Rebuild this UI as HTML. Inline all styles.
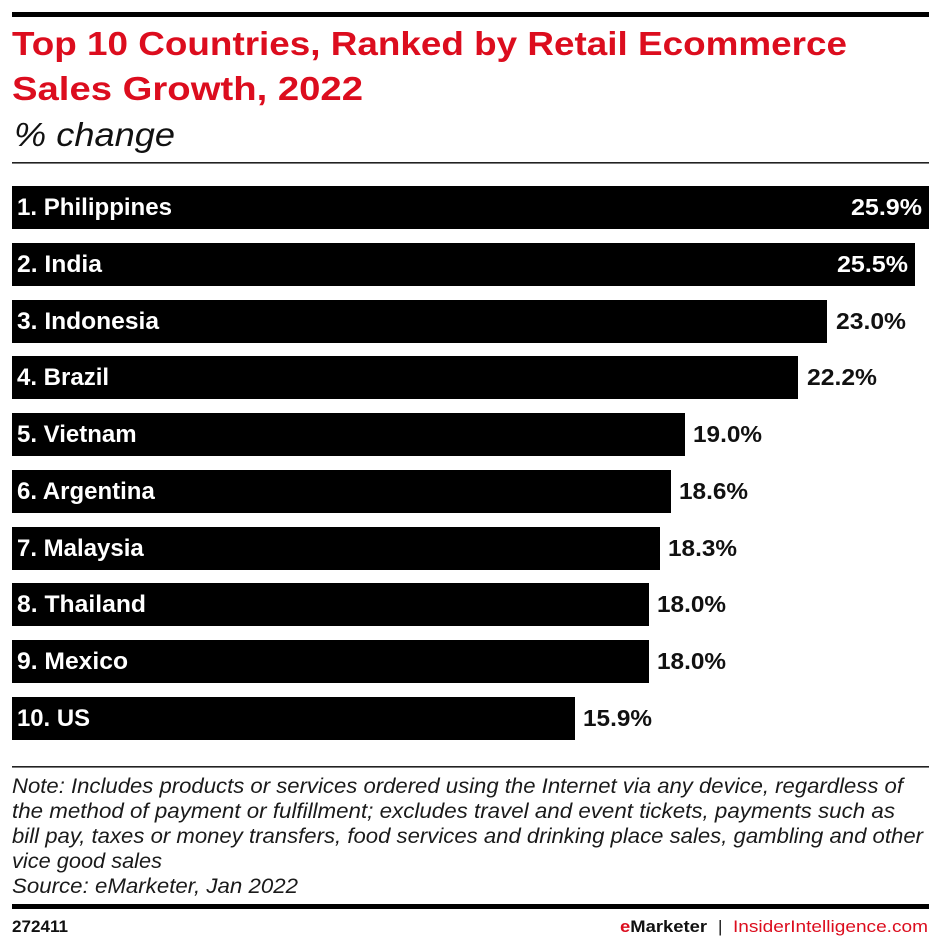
<!DOCTYPE html>
<html>
<head>
<meta charset="utf-8">
<style>
  html, body { margin: 0; padding: 0; background: #ffffff; }
  svg { display: block; }
  .lbl { font-family: "Liberation Sans", sans-serif; font-weight: bold; font-size: 24px; fill: #ffffff; }
  .val { font-family: "Liberation Sans", sans-serif; font-weight: bold; font-size: 23px; }
  .note { font-family: "Liberation Sans", sans-serif; font-style: italic; font-size: 21px; fill: #1a1a1a; }
</style>
</head>
<body>
<svg width="940" height="946" viewBox="0 0 940 946" xmlns="http://www.w3.org/2000/svg">
  <rect x="0" y="0" width="940" height="946" fill="#ffffff"/>

  <!-- top rule -->
  <rect x="12" y="12" width="917" height="5" fill="#000"/>

  <!-- title -->
  <text x="12" y="55" font-family="Liberation Sans, sans-serif" font-weight="bold" font-size="33.5" fill="#dc0d1e" textLength="835" lengthAdjust="spacingAndGlyphs">Top 10 Countries, Ranked by Retail Ecommerce</text>
  <text x="12" y="100" font-family="Liberation Sans, sans-serif" font-weight="bold" font-size="33.5" fill="#dc0d1e" textLength="351" lengthAdjust="spacingAndGlyphs">Sales Growth, 2022</text>
  <text x="14" y="146" font-family="Liberation Sans, sans-serif" font-style="italic" font-size="33" fill="#111" textLength="161" lengthAdjust="spacingAndGlyphs">% change</text>

  <!-- thin rule -->
  <rect x="12" y="162" width="917" height="1.6" fill="#222"/>

  <!-- bars -->
  <rect x="12" y="186" width="917" height="43" fill="#000"/>
  <rect x="12" y="243" width="903" height="43" fill="#000"/>
  <rect x="12" y="300" width="815" height="43" fill="#000"/>
  <rect x="12" y="356" width="786" height="43" fill="#000"/>
  <rect x="12" y="413" width="673" height="43" fill="#000"/>
  <rect x="12" y="470" width="659" height="43" fill="#000"/>
  <rect x="12" y="527" width="648" height="43" fill="#000"/>
  <rect x="12" y="583" width="637" height="43" fill="#000"/>
  <rect x="12" y="640" width="637" height="43" fill="#000"/>
  <rect x="12" y="697" width="563" height="43" fill="#000"/>

  <!-- bar labels -->
  <text class="lbl" x="17" y="215" textLength="155" lengthAdjust="spacingAndGlyphs">1. Philippines</text>
  <text class="lbl" x="17" y="272" textLength="85" lengthAdjust="spacingAndGlyphs">2. India</text>
  <text class="lbl" x="17" y="329" textLength="142" lengthAdjust="spacingAndGlyphs">3. Indonesia</text>
  <text class="lbl" x="17" y="385">4. Brazil</text>
  <text class="lbl" x="17" y="442">5. Vietnam</text>
  <text class="lbl" x="17" y="499">6. Argentina</text>
  <text class="lbl" x="17" y="556">7. Malaysia</text>
  <text class="lbl" x="17" y="612" textLength="129" lengthAdjust="spacingAndGlyphs">8. Thailand</text>
  <text class="lbl" x="17" y="669" textLength="111" lengthAdjust="spacingAndGlyphs">9. Mexico</text>
  <text class="lbl" x="17" y="726" textLength="73" lengthAdjust="spacingAndGlyphs">10. US</text>

  <!-- values -->
  <text class="val" x="851" y="215" fill="#fff" textLength="71" lengthAdjust="spacingAndGlyphs">25.9%</text>
  <text class="val" x="837" y="272" fill="#fff" textLength="71" lengthAdjust="spacingAndGlyphs">25.5%</text>
  <text class="val" x="836" y="329" fill="#111" textLength="70" lengthAdjust="spacingAndGlyphs">23.0%</text>
  <text class="val" x="807" y="385" fill="#111" textLength="70" lengthAdjust="spacingAndGlyphs">22.2%</text>
  <text class="val" x="693" y="442" fill="#111" textLength="69" lengthAdjust="spacingAndGlyphs">19.0%</text>
  <text class="val" x="679" y="499" fill="#111" textLength="69" lengthAdjust="spacingAndGlyphs">18.6%</text>
  <text class="val" x="668" y="556" fill="#111" textLength="69" lengthAdjust="spacingAndGlyphs">18.3%</text>
  <text class="val" x="657" y="612" fill="#111" textLength="69" lengthAdjust="spacingAndGlyphs">18.0%</text>
  <text class="val" x="657" y="669" fill="#111" textLength="69" lengthAdjust="spacingAndGlyphs">18.0%</text>
  <text class="val" x="583" y="726" fill="#111" textLength="69" lengthAdjust="spacingAndGlyphs">15.9%</text>

  <!-- bottom thin rule -->
  <rect x="12" y="766" width="917" height="1.6" fill="#222"/>

  <!-- note -->
  <text class="note" x="12" y="793" textLength="891" lengthAdjust="spacingAndGlyphs">Note: Includes products or services ordered using the Internet via any device, regardless of</text>
  <text class="note" x="12" y="818" textLength="883" lengthAdjust="spacingAndGlyphs">the method of payment or fulfillment; excludes travel and event tickets, payments such as</text>
  <text class="note" x="12" y="843" textLength="911" lengthAdjust="spacingAndGlyphs">bill pay, taxes or money transfers, food services and drinking place sales, gambling and other</text>
  <text class="note" x="12" y="868" textLength="150" lengthAdjust="spacingAndGlyphs">vice good sales</text>
  <text class="note" x="12" y="893" textLength="286" lengthAdjust="spacingAndGlyphs">Source: eMarketer, Jan 2022</text>

  <!-- bottom thick rule -->
  <rect x="12" y="904" width="917" height="5" fill="#000"/>

  <!-- footer -->
  <text x="12" y="932" font-family="Liberation Sans, sans-serif" font-weight="bold" font-size="17" fill="#111" textLength="56" lengthAdjust="spacingAndGlyphs">272411</text>
  <text x="620" y="932" font-family="Liberation Sans, sans-serif" font-weight="bold" font-size="17" fill="#111" textLength="87" lengthAdjust="spacingAndGlyphs"><tspan fill="#dc0d1e">e</tspan>Marketer</text>
  <text x="718" y="932" font-family="Liberation Sans, sans-serif" font-size="17" fill="#111">|</text>
  <text x="733" y="932" font-family="Liberation Sans, sans-serif" font-size="17" fill="#dc0d1e" textLength="195" lengthAdjust="spacingAndGlyphs">InsiderIntelligence.com</text>
</svg>
</body>
</html>
